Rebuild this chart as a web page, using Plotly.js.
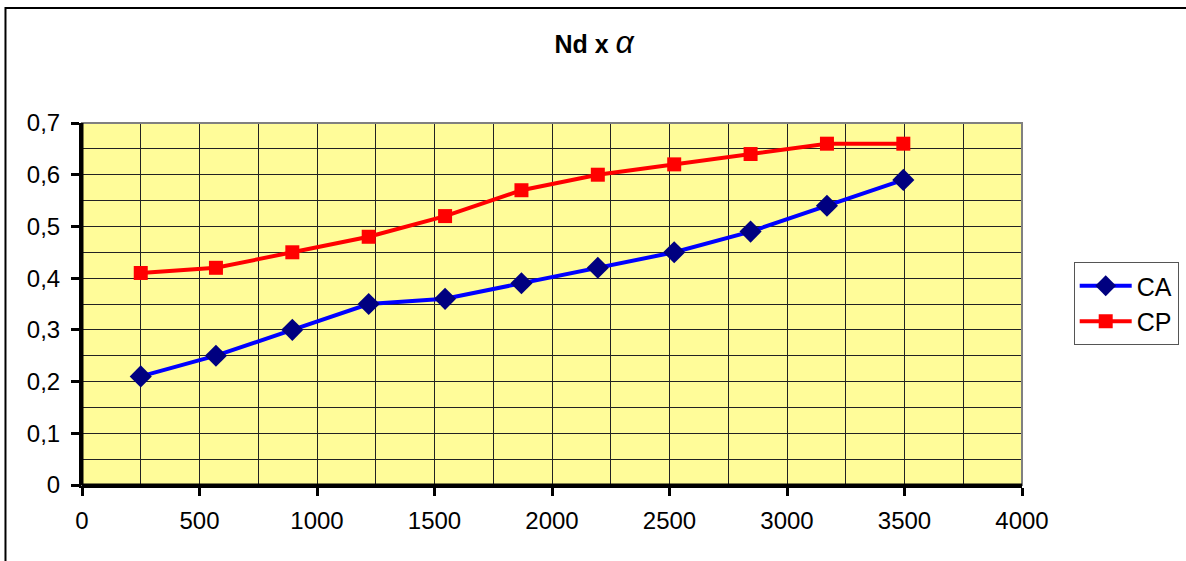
<!DOCTYPE html>
<html>
<head>
<meta charset="utf-8">
<script src="https://cdn.plot.ly/plotly-3.0.1.min.js"></script>
<style>html,body{margin:0;padding:0;background:#fff;}#chart{width:1186px;height:561px;}</style>
</head>
<body>
<div id="chart"></div>
<script>
const nd = [250, 570, 895, 1220, 1545, 1870, 2195, 2520, 2845, 3170, 3495];
const ca = [0.21, 0.25, 0.30, 0.35, 0.36, 0.39, 0.42, 0.45, 0.49, 0.54, 0.59];
const cp = [0.41, 0.42, 0.45, 0.48, 0.52, 0.57, 0.60, 0.62, 0.64, 0.66, 0.66];
const seriesNames = ['CA', 'CP'];

const traces = [
  {x: nd, y: ca, name: seriesNames[0], type: 'scatter', mode: 'lines+markers',
   line: {color: '#0000FF', width: 4},
   marker: {symbol: 'diamond', size: 17, color: '#000080'}},
  {x: nd, y: cp, name: seriesNames[1], type: 'scatter', mode: 'lines+markers',
   line: {color: '#FF0000', width: 4},
   marker: {symbol: 'square', size: 14, color: '#FF0000'}}
];

const layout = {
  width: 1186, height: 561,
  margin: {l: 82, r: 164, t: 123, b: 76, autoexpand: false},
  paper_bgcolor: '#ffffff',
  plot_bgcolor: '#FFFC99',
  separators: ', ',
  font: {family: 'Liberation Sans, Arial, sans-serif', size: 24, color: '#000'},
  title: {text: '<b>Nd x </b><i><span style="font-size:32px">α</span></i>', x: 0.501, xanchor: 'center', y: 0.921, yanchor: 'middle',
          font: {size: 25, family: 'Liberation Sans, Arial, sans-serif', color: '#000'}},
  xaxis: {range: [0, 4000], dtick: 500, tick0: 0, showgrid: true, gridcolor: '#222', gridwidth: 1,
          minor: {dtick: 250, showgrid: true, gridcolor: '#222', gridwidth: 1},
          showline: true, linecolor: '#000', linewidth: 3, ticks: 'outside', ticklen: 8, tickwidth: 3,
          tickcolor: '#000', zeroline: false, mirror: false, fixedrange: true, tickfont: {size: 24},
          ticklabelstandoff: 4, automargin: false},
  yaxis: {range: [0, 0.7], dtick: 0.1, tick0: 0, showgrid: true, gridcolor: '#222', gridwidth: 1,
          minor: {dtick: 0.05, showgrid: true, gridcolor: '#222', gridwidth: 1},
          showline: true, linecolor: '#000', linewidth: 3, ticks: 'outside', ticklen: 8, tickwidth: 3,
          tickcolor: '#000', zeroline: false, fixedrange: true, tickfont: {size: 24},
          ticklabelstandoff: 6, automargin: false},
  legend: {x: 1.055, y: 0.616, xanchor: 'left', yanchor: 'top', bordercolor: '#555', borderwidth: 1,
           bgcolor: '#fff', font: {size: 25, family: 'Liberation Sans, Arial, sans-serif'},
           tracegroupgap: 4, itemwidth: 52},
  showlegend: true,
  shapes: [
    {type: 'rect', xref: 'paper', yref: 'paper', x0: 0, x1: 1, y0: 0, y1: 1,
     line: {color: '#808080', width: 2}, layer: 'above'},
    {type: 'line', xref: 'paper', yref: 'paper', x0: 0, x1: 0, y0: 0, y1: 1,
     line: {color: '#000', width: 3}, layer: 'above'},
    {type: 'line', xref: 'paper', yref: 'paper', x0: 0, x1: 1, y0: 0, y1: 0,
     line: {color: '#000', width: 3}, layer: 'above'},
    {type: 'rect', xref: 'paper', yref: 'paper', x0: -0.0814, x1: 1.2, y0: -0.25, y1: 1.3177,
     line: {color: '#000', width: 2}, fillcolor: 'rgba(0,0,0,0)', layer: 'below'}
  ]
};

Plotly.newPlot('chart', traces, layout, {displayModeBar: false, staticPlot: true});
</script>
</body>
</html>
